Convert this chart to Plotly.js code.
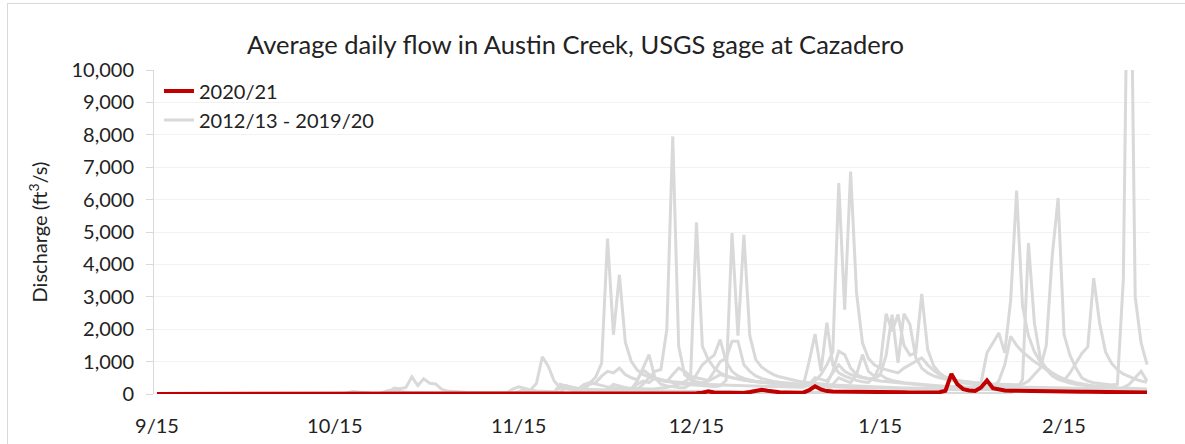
<!DOCTYPE html>
<html>
<head>
<meta charset="utf-8">
<script src="https://cdn.plot.ly/plotly-3.0.1.min.js"></script>
<style>
  html, body { margin: 0; padding: 0; background: #fff; }
  #wrap { position: relative; width: 1185px; height: 444px; overflow: hidden; }
  #chart { width: 1185px; height: 444px; }
  #frame { position: absolute; left: 7px; top: 3px; width: 1200px; height: 460px;
           border: 1px solid #d9d9d9; box-sizing: border-box; pointer-events: none; }
</style>
</head>
<body>
<div id="wrap"><div id="chart"></div><div id="frame"></div></div>
<script>
// Day 0 = 9/15 ... day 167 = 3/1
const tickDays   = [0, 30, 61, 91, 122, 153];
const tickLabels = ["9/15", "10/15", "11/15", "12/15", "1/15", "2/15"];

const wy2021 = [
  3,3,3,3,3,3,3,3,3,3, 3,3,3,3,3,3,3,3,3,3, 3,3,3,3,3,3,3,3,3,3,
  3,3,3,3,3,3,3,3,4,4, 4,4,4,4,4,4,4,4,4,4, 4,4,4,4,5,5,5,5,5,5,
  6,8,12,20,28,22,16,13,12,11, 10,10,10,10,10,10,10,10,10,10,
  10,10,10,11,11,11,12,12,13,14, 16,20,40,80,50,40,35,32,30,30,
  60,110,130,100,70,55,50,45,42,40, 120,240,140,90,80,75,70,65,62,60,
  58,56,55,54,53,52,51,50,50,50, 50,50,55,100,620,300,150,110,95,200,
  420,180,130,110,100,95,90,85,82,80, 78,76,75,75,74,72,70,68,66,65,
  62,60,58,56,55,54,52,50
];

const wy2013 = [
  6,6,6,6,6,6,6,6,6,6, 6,6,6,6,6,6,6,6,6,6, 6,6,6,6,6,6,6,6,6,6,
  6,6,6,6,6,7,7,7,7,7, 7,7,7,7,7,7,7,7,7,7, 7,7,8,8,8,8,9,9,10,12,
  25,70,140,100,70,55,48,42,60,190, 130,95,85,330,520,950,4800,1830,3680,1600,
  1010,740,600,520,460,420,380,350,320,300, 285,265,250,240,235,250,420,4966,1803,4915,
  1800,1063,830,700,600,530,480,440,400,370, 345,325,305,290,280,270,260,250,240,232,
  225,218,210,205,200,195,190,185,180,175, 170,165,160,156,152,148,145,142,139,136,
  133,130,127,124,121,118,115,112,110,108, 106,104,102,100,98,96,94,92,90,88,
  86,84,82,80,78,76,75,74
];

const wy2014 = [
  4,4,4,4,4,4,4,4,4,4, 4,4,4,4,4,4,4,4,4,4, 4,4,4,4,4,4,4,4,4,4,
  4,4,4,4,4,4,4,4,4,4, 4,4,4,4,4,4,4,4,4,4, 4,4,4,4,5,5,5,5,5,5,
  5,5,5,5,6,8,12,10,9,8, 8,8,8,8,8,8,9,10,12,18,
  30,22,18,16,15,14,14,13,13,12, 12,12,12,11,11,11,11,11,11,11,
  11,11,11,11,11,11,11,11,11,11, 11,11,11,11,11,11,11,11,11,11,
  11,11,11,11,11,11,11,11,11,11, 11,11,11,11,12,12,12,12,12,12,
  13,14,16,20,35,120,450,4660,2194,1100, 760,560,450,390,340,300,270,250,230,210,
  195,185,175,165,155,148,142,136
];

const wy2015 = [
  3,3,3,3,3,3,3,3,3,3, 3,3,3,3,3,3,3,3,3,3, 3,3,3,3,3,3,3,3,3,3,
  3,3,3,3,3,3,3,3,40,110, 90,70,50,40,35,30,28,25,23,22, 20,19,18,17,16,16,15,15,15,15,
  16,20,40,120,320,1146,860,400,190,150, 130,120,110,100,95,90,88,85,82,80,
  90,140,300,500,700,755,1990,7950,1473,600, 450,380,340,400,500,600,550,500,450,420,
  400,380,360,340,320,300,290,280,270,260, 250,240,232,225,218,212,206,200,195,190,
  185,180,176,172,168,164,160,156,152,148, 145,142,139,136,133,130,128,126,124,122,
  140,200,400,900,1780,1500,1300,1150,1000,880, 750,640,540,460,400,350,310,280,255,235,
  220,205,195,185,175,168,160,152
];

const wy2016 = [
  2,2,2,2,2,2,2,2,2,2, 2,2,2,2,2,2,2,2,2,2, 2,2,2,2,2,2,2,2,2,2,
  2,2,2,2,2,2,2,2,2,2, 2,2,2,2,2,2,2,2,2,2, 2,2,2,3,3,3,3,3,3,3,
  4,6,10,8,6,5,5,5,5,5, 5,5,6,8,20,60,150,300,250,180,
  150,400,800,1217,500,300,250,220,200,190, 300,600,900,1060,1200,1680,1000,700,560,480,
  430,390,360,340,320,300,290,280,270,260, 1000,1850,700,2200,900,650,550,480,420,380,
  360,520,900,2480,1935,2450,1500,1200,1270,3088, 1370,870,650,520,440,380,340,310,285,265,
  250,240,230,225,220,215,210,205,200,195, 190,186,182,178,174,170,166,162,158,155,
  152,150,148,146,144,142,140,138
];

const wy2017 = [
  4,4,4,4,4,4,4,4,4,4, 4,4,4,4,4,4,4,4,4,4, 4,4,4,4,4,4,4,4,4,4,
  5,6,30,80,60,40,30,25,22,20, 18,17,16,15,15,14,14,13,13,13, 12,12,12,12,12,12,12,12,12,12,
  12,12,13,14,15,16,18,20,22,25, 30,150,290,350,300,250,220,200,190,180,
  170,165,160,155,160,180,200,250,300,380, 500,5295,1470,1060,800,650,560,500,460,430,
  400,380,360,340,330,320,310,300,290,285, 300,400,600,900,1300,6507,2604,6867,3118,1577,
  1100,900,800,750,700,650,800,900,1000,1115, 900,730,600,520,460,420,390,370,350,340,
  1270,1577,1885,1270,2900,6280,2706,1800,1300,1000, 800,650,550,420,650,950,1250,1454,3580,2190,
  1300,950,750,620,530,460,400,360
];

const wy2018 = [
  3,3,3,3,3,3,3,3,3,3, 3,3,3,3,3,3,3,3,3,3, 3,3,3,3,3,3,3,3,3,3,
  3,3,3,3,3,3,3,3,3,60, 180,160,200,530,262,468,330,310,150,90, 70,60,52,46,42,40,38,36,35,34,
  150,220,180,120,90,80,75,70,190,260, 200,160,140,130,120,115,110,105,100,98,
  96,94,92,90,88,86,84,82,80,78, 76,74,72,70,68,66,65,64,63,62,
  61,60,59,58,57,56,55,54,53,52, 52,51,50,100,300,500,420,350,600,1217,
  700,550,600,480,420,380,350,330,310,300, 280,260,245,230,220,210,200,192,185,178,
  172,166,160,155,150,146,142,138,134,130, 127,124,121,118,115,112,110,108,106,104,
  102,100,110,200,300,500,700,400
];

const wy2019 = [
  4,4,4,4,4,4,4,4,4,4, 4,4,4,4,4,4,4,4,4,4, 4,4,4,4,4,4,4,4,4,4,
  4,4,4,4,4,4,4,4,4,4, 4,4,4,4,4,4,4,4,4,4, 4,4,4,4,4,4,4,4,4,4,
  4,4,5,6,8,10,15,50,300,250, 200,170,150,140,130,125,120,115,110,105,
  150,300,400,350,500,450,400,380,360,340, 320,310,300,290,280,275,270,265,260,255,
  250,245,240,235,230,225,220,215,210,205, 300,500,450,400,650,900,700,600,550,500,
  480,460,600,1200,2450,960,2480,2150,1115,800, 650,560,500,450,420,400,380,360,345,330,
  320,310,300,295,290,285,300,400,600,800, 1500,4250,6045,1833,1200,800,500,400,350,320,
  300,280,300,3530,18000,3000,1577,909
];

const wy2020 = [
  5,5,5,5,5,5,5,5,5,5, 5,5,5,5,5,5,5,5,5,5, 5,5,5,5,5,5,5,5,5,5,
  5,5,5,5,5,5,5,5,5,5, 5,5,5,5,5,5,5,5,5,5, 5,5,5,5,5,5,5,5,5,5,
  5,5,5,5,5,5,5,5,6,8, 12,60,200,300,350,550,700,650,800,600,
  500,440,740,600,480,420,380,600,800,700, 550,500,450,420,700,1000,1100,1627,1627,900,
  700,560,480,430,390,360,340,320,305,290, 280,270,260,300,700,1320,1217,800,600,520,
  470,430,400,380,360,340,320,300,285,270, 260,250,240,230,222,215,208,202,196,190,
  185,180,175,170,165,160,156,152,148,144, 140,136,132,128,124,120,117,114,111,108,
  105,102,99,96,93,90,88,86
];

const pastYears = [wy2013, wy2014, wy2015, wy2016, wy2017, wy2018, wy2019, wy2020];
const pastNames = ["2012/13","2013/14","2014/15","2015/16","2016/17","2017/18","2018/19","2019/20"];

const dayIndex = arr => arr.map((_, i) => i);
const FONT = "Lato, 'Open Sans', sans-serif";

const traces = pastYears.map((ys, k) => ({
  x: dayIndex(ys), y: ys, type: "scatter", mode: "lines",
  name: k === 0 ? "2012/13 - 2019/20" : pastNames[k],
  showlegend: k === 0, legendgroup: "past", legendrank: 2,
  line: { color: "#d9d9d9", width: 3 },
  hoverinfo: "skip"
}));
traces.push({
  x: dayIndex(wy2021), y: wy2021, type: "scatter", mode: "lines",
  name: "2020/21", legendrank: 1,
  line: { color: "#c00000", width: 4 }
});

const layout = {
  width: 1185, height: 444,
  margin: { l: 154, r: 35, t: 70, b: 50 },
  paper_bgcolor: "#ffffff", plot_bgcolor: "#ffffff",
  font: { family: FONT, size: 20, color: "#222" },
  title: {
    text: "Average daily flow in Austin Creek, USGS gage at Cazadero",
    font: { family: FONT, size: 25.5, color: "#222" },
    xref: "container", yref: "container",
    x: 247 / 1185, xanchor: "left", y: 1 - 45 / 444, yanchor: "middle"
  },
  xaxis: {
    range: [-0.5, 167.5], tickmode: "array", tickvals: tickDays, ticktext: tickLabels,
    showgrid: false, zeroline: false, showline: false, ticks: "",
    tickfont: { family: FONT, size: 20, color: "#222" },
    ticklabelstandoff: 18, fixedrange: true
  },
  yaxis: {
    range: [0, 10000], dtick: 1000, tick0: 0, tickformat: ",d",
    showgrid: true, gridcolor: "#f2f2f2", gridwidth: 1,
    zeroline: false, showline: true, linecolor: "#d9d9d9", linewidth: 1,
    ticks: "outside", ticklen: 7, tickcolor: "#d9d9d9",
    tickfont: { family: FONT, size: 20, color: "#222" },
    ticklabelstandoff: 8,
    title: { text: "Discharge (ft<sup>3</sup>/s)", font: { family: FONT, size: 20, color: "#222" }, standoff: 18 },
    fixedrange: true
  },
  legend: {
    x: 0.005, y: 0.995, xanchor: "left", yanchor: "top",
    bgcolor: "rgba(255,255,255,0)", font: { family: FONT, size: 20, color: "#222" },
    tracegroupgap: 0
  },
  showlegend: true
};

Plotly.newPlot("chart", traces, layout, { displayModeBar: false, staticPlot: true });
</script>
</body>
</html>
